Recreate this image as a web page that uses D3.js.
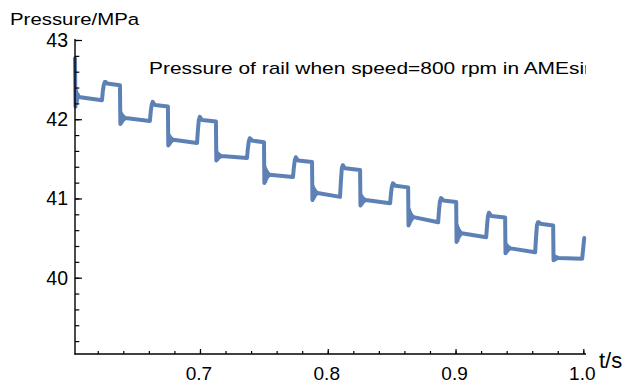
<!DOCTYPE html>
<html>
<head>
<meta charset="utf-8">
<script src="https://cdn.jsdelivr.net/npm/d3@7/dist/d3.min.js"></script>
<style>
  html, body { margin: 0; padding: 0; background: #fff; }
  svg { display: block; }
  text { font-family: "Liberation Sans", Arial, Helvetica, sans-serif; fill: #000; }
</style>
</head>
<body>
<script>
// Rail pressure trace: one step cycle per pump stroke.
// Start-up transient at the left edge.
const startT = [0.6022, 0.6026, 0.6031, 0.6036, 0.6042, 0.6050];
const startP = [42.77, 42.16, 42.36, 42.22, 42.32, 42.28];

// Rising edges and the low level reached just before each one.
const riseT    = [0.6233, 0.6608, 0.6977, 0.7368, 0.7728, 0.8096, 0.8488, 0.8864, 0.9240, 0.9623, 0.9991];
const lowEndP  = [42.24, 41.977, 41.70, 41.51, 41.27, 41.02, 40.94, 40.70, 40.51, 40.32, 40.24];

// High level: peak after the rise, level just before the fall.
const peakP    = [42.47, 42.22, 42.03, 41.76, 41.52, 41.42, 41.19, 41.005, 40.82, 40.70];
const highEndP = [42.43, 42.16, 41.97, 41.71, 41.46, 41.36, 41.14, 40.955, 40.76, 40.66];

// Falling edges, undershoot and the settled low level after each fall.
const fallT     = [0.6374, 0.6749, 0.7125, 0.7501, 0.7877, 0.8253, 0.8629, 0.9005, 0.9388, 0.9764];
const dipP      = [41.94, 41.67, 41.48, 41.195, 40.98, 40.91, 40.66, 40.45, 40.31, 40.22];
const lowStartP = [42.015, 41.74, 41.535, 41.30, 41.07, 40.98, 40.765, 40.56, 40.37, 40.25];

// Last sample.
const endT = 1.0007, endP = 40.50;

// Axis ticks.
const xMajor = [0.7, 0.8, 0.9, 1.0];
const yMajor = [40, 41, 42, 43];

const W = 627, H = 385;
const plotLeft = 75, plotRight = 586, plotTop = 40, plotBottom = 354;
const color = "#5E81B5";

const x = d3.scaleLinear().domain([0.6022, 1.0021]).range([plotLeft, plotRight]);
const y = d3.scaleLinear().domain([39.037, 43.0]).range([plotBottom, plotTop]);

// Build the polyline from the level arrays.
const pts = [];
startT.forEach((t, i) => pts.push([t, startP[i]]));
riseT.forEach((tr, i) => {
  pts.push([tr, lowEndP[i]]);
  if (i >= fallT.length) return;
  const pk = peakP[i], he = highEndP[i], tf = fallT[i];
  const ls = lowStartP[i], dp = dipP[i];
  const sw = ls - dp;
  pts.push([tr + 0.0007, lowEndP[i] + (pk - lowEndP[i]) * 0.5]);
  pts.push([tr + 0.0014, pk - 0.04]);
  pts.push([tr + 0.0022, pk]);
  pts.push([tr + 0.0030, he + 0.04]);
  pts.push([tr + 0.0040, he + 0.02]);
  pts.push([tf, he]);
  // ringing after the valve closes
  pts.push([tf + 0.0003, dp]);
  pts.push([tf + 0.0007, ls + sw * 0.9]);
  pts.push([tf + 0.0011, ls - sw * 0.8]);
  pts.push([tf + 0.0015, ls + sw * 0.6]);
  pts.push([tf + 0.0019, ls - sw * 0.5]);
  pts.push([tf + 0.0024, ls + sw * 0.35]);
  pts.push([tf + 0.0029, ls - sw * 0.25]);
  pts.push([tf + 0.0035, ls + sw * 0.12]);
  pts.push([tf + 0.0043, ls]);
});
pts.push([endT, endP]);

const svg = d3.select("body").append("svg")
  .attr("width", W).attr("height", H)
  .attr("viewBox", `0 0 ${W} ${H}`);

svg.append("defs").append("clipPath").attr("id", "plot-clip")
  .append("rect").attr("x", plotLeft).attr("y", 0)
  .attr("width", plotRight - plotLeft).attr("height", plotBottom);

// Data line
svg.append("path")
  .datum(pts)
  .attr("d", d3.line().x(d => x(d[0])).y(d => y(d[1])))
  .attr("fill", "none")
  .attr("stroke", color)
  .attr("stroke-width", 4)
  .attr("stroke-linejoin", "round")
  .attr("stroke-linecap", "round");

// Axes with inward ticks
const axisColor = "#000";
const yAxis = d3.axisRight(y)
  .tickValues(d3.range(39.2, 43.001, 0.2))
  .tickSize(4.3).tickFormat("");
const yMajAxis = d3.axisRight(y).tickValues(yMajor).tickSize(7).tickFormat("");
const xAxis = d3.axisTop(x)
  .tickValues(d3.range(0.62, 1.0001, 0.02))
  .tickSize(3).tickFormat("");
const xMajAxis = d3.axisTop(x).tickValues(xMajor).tickSize(5).tickFormat("");

function styleAxis(g) {
  g.select(".domain").remove();
  g.selectAll(".tick line").attr("stroke", axisColor).attr("stroke-width", 1.2);
}
svg.append("g").attr("transform", `translate(${plotLeft},0)`).call(yAxis).call(styleAxis);
svg.append("g").attr("transform", `translate(${plotLeft},0)`).call(yMajAxis).call(styleAxis);
svg.append("g").attr("transform", `translate(0,${plotBottom})`).call(xAxis).call(styleAxis);
svg.append("g").attr("transform", `translate(0,${plotBottom})`).call(xMajAxis).call(styleAxis);

svg.append("line").attr("x1", plotLeft).attr("x2", plotLeft).attr("y1", plotTop - 1).attr("y2", plotBottom + 0.6)
  .attr("stroke", axisColor).attr("stroke-width", 1.4);
svg.append("line").attr("x1", plotLeft - 0.6).attr("x2", plotRight).attr("y1", plotBottom).attr("y2", plotBottom)
  .attr("stroke", axisColor).attr("stroke-width", 1.4);

// Tick labels
svg.append("g").selectAll("text").data(yMajor).join("text")
  .attr("x", plotLeft - 7).attr("y", d => y(d) + 7)
  .attr("text-anchor", "end").style("font-size", "19.5px")
  .text(d => d);
svg.append("g").selectAll("text").data(xMajor).join("text")
  .attr("x", d => x(d) - 1).attr("y", 380)
  .attr("text-anchor", "middle").style("font-size", "19px")
  .text(d => d3.format(".1f")(d));

// Axis labels
svg.append("text").attr("x", 599).attr("y", 368)
  .style("font-size", "22px").text("t/s");
svg.append("text")
  .attr("transform", "translate(10,25) scale(1.2,1)")
  .style("font-size", "17px").text("Pressure/MPa");

// Title inside the plot, clipped at the frame
svg.append("g").attr("clip-path", "url(#plot-clip)")
  .append("text")
  .attr("transform", "translate(149,74) scale(1.23,1)")
  .style("font-size", "17px")
  .text("Pressure of rail when speed=800 rpm in AMEsim");
</script>
</body>
</html>
